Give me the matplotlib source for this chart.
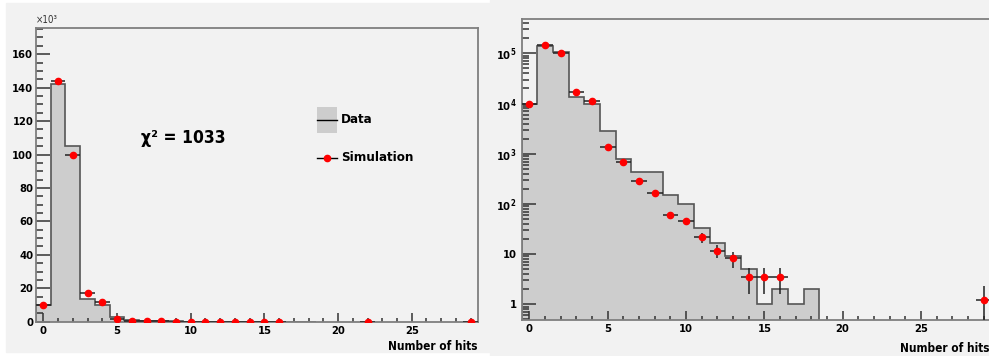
import numpy as np
import matplotlib
matplotlib.use("Agg")
import matplotlib.pyplot as plt
from matplotlib import font_manager
from matplotlib.patches import Rectangle
from matplotlib.lines import Line2D
from matplotlib.ticker import MultipleLocator, LogLocator, FixedLocator, FuncFormatter, NullFormatter

# -----------------------------------
# Data (bins of width 1, centred on integers)

data_counts = [10e3, 142e3, 105e3, 13.5e3, 10e3, 2.8e3, 800, 430, 430, 150,
               98, 33, 17, 9, 5, 1, 2, 1, 2]
data_edges = np.arange(len(data_counts) + 1) - 0.5

sim_hits = [0, 1, 2, 3, 4, 5, 6, 7, 8, 9, 10, 11, 12, 13, 14, 15, 16, 22, 29]
sim_counts = [9.7e3, 144e3, 100e3, 17e3, 11.5e3, 1.36e3, 670, 290, 168, 60,
              46, 21.6, 11.6, 8.2, 3.5, 3.5, 3.5, 0, 1.2]

log_ticks = [1, 10, 1e2, 1e3, 1e4, 1e5]
chi2_text = "χ² = 1033"
x_label = "Number of hits"

# -----------------------------------
# Style

W, H = 989, 356
BG = "#f2f2f2"
FILL = "#cdcdcd"
EDGE = "#555555"
SPINE = "#7f7f7f"

# pick a narrow bold face if one is installed (ROOT screenshots look condensed)
fonts = font_manager.fontManager.ttflist
names = {f.name for f in fonts}
stretch = "normal"
if "Liberation Sans Narrow" in names:
    base_font = "Liberation Sans Narrow"
elif any(f.name == "DejaVu Sans" and f.stretch == "condensed" for f in fonts):
    base_font = "DejaVu Sans"
    stretch = "condensed"
else:
    base_font = "Liberation Sans"
FONT = [base_font, "DejaVu Sans"]
scale = 1.0 if stretch == "condensed" or base_font.endswith("Narrow") else 0.88

plt.rcParams["font.family"] = FONT
plt.rcParams["font.weight"] = "bold"
plt.rcParams["font.stretch"] = stretch
plt.rcParams["mathtext.fontset"] = "custom"
mt = base_font + ":bold" + (":stretch=condensed" if stretch == "condensed" else "")
plt.rcParams["mathtext.rm"] = mt
plt.rcParams["mathtext.bf"] = mt


def px_axes(fig, x0, y0, x1, y1):
    """Axes from pixel box (left, top, right, bottom)"""
    return fig.add_axes([x0 / W, 1 - y1 / H, (x1 - x0) / W, (y1 - y0) / H])


def style_axes(ax):
    ax.set_facecolor(BG)
    for s in ax.spines.values():
        s.set_color(SPINE)
        s.set_linewidth(1.3)
    ax.tick_params(axis="both", which="both", direction="in", colors="#333333",
                   labelcolor="black", labelsize=8 * scale, width=1.1)
    ax.tick_params(axis="x", which="major", length=6.5, pad=3)
    ax.tick_params(axis="x", which="minor", length=3.2)
    ax.tick_params(axis="y", which="major", length=10, pad=2)
    ax.tick_params(axis="y", which="minor", length=5)
    ax.tick_params(top=False, right=False, which="both")
    ax.set_xlim(-0.5, 29.5)
    ax.xaxis.set_major_locator(MultipleLocator(5))
    ax.xaxis.set_minor_locator(MultipleLocator(1))


def draw_hists(ax, log=False):
    base = 1e-3 if log else 0
    ax.stairs(data_counts, data_edges, baseline=base, fill=True,
              color=FILL, zorder=1)
    ax.stairs(data_counts, data_edges, baseline=base, color=EDGE,
              linewidth=1.2, zorder=2)
    y = np.array(sim_counts, dtype=float)
    x = np.array(sim_hits, dtype=float)
    if log:
        keep = y > 0
        x, y = x[keep], y[keep]
    ax.errorbar(x, y, xerr=0.5, yerr=np.sqrt(y), fmt="o", color="red",
                markersize=4.5, ecolor="#222222", elinewidth=1.1,
                capsize=0, zorder=3)


fig = plt.figure(figsize=(W / 100, H / 100), dpi=100, facecolor="white")
# the two canvases
fig.add_artist(Rectangle((6 / W, 1 - 352 / H), (490 - 6) / W, (352 - 3) / H,
                         transform=fig.transFigure, color=BG, zorder=0))
fig.add_artist(Rectangle((490 / W, 0), (W - 490) / W, 1,
                         transform=fig.transFigure, color=BG, zorder=0))

# ---- left panel: linear scale
ax1 = px_axes(fig, 36, 28.3, 478, 321.7)
draw_hists(ax1)
ax1.set_ylim(0, 175.5e3)
ax1.yaxis.set_major_locator(MultipleLocator(20e3))
ax1.yaxis.set_minor_locator(MultipleLocator(5e3))
ax1.yaxis.set_major_formatter(FuncFormatter(lambda v, p: "%d" % round(v / 1e3)))
style_axes(ax1)
ax1.text(0.0, 1.012, "×10³", transform=ax1.transAxes, fontsize=7 * scale,
         fontweight="normal", color="#333333", ha="left", va="bottom")
ax1.text(1.0, -0.064, x_label, transform=ax1.transAxes, fontsize=8.5 * scale,
         ha="right", va="top")
ax1.text(9.5, 110e3, chi2_text, fontsize=12.5 * scale, ha="center", va="center")

# legend drawn the ROOT way
ax1.add_patch(Rectangle((0.635, 0.643), 0.045, 0.09, transform=ax1.transAxes,
                        facecolor=FILL, edgecolor="none", zorder=4))
ax1.add_line(Line2D([0.635, 0.68], [0.688, 0.688], transform=ax1.transAxes,
                    color="black", linewidth=1.0, zorder=5))
ax1.add_line(Line2D([0.635, 0.68], [0.559, 0.559], transform=ax1.transAxes,
                    color="black", linewidth=1.0, zorder=5))
ax1.add_line(Line2D([0.6575], [0.559], transform=ax1.transAxes, marker="o",
                    markersize=4.5, color="red", zorder=6))
ax1.text(0.69, 0.688, "Data", transform=ax1.transAxes, fontsize=9.5 * scale,
         va="center", ha="left")
ax1.text(0.69, 0.559, "Simulation", transform=ax1.transAxes, fontsize=9.5 * scale,
         va="center", ha="left")

# ---- right panel: log scale
ax2 = px_axes(fig, 521.5, 19, 991.5, 320)
ax2.set_yscale("log")
draw_hists(ax2, log=True)
ax2.yaxis.set_major_locator(FixedLocator(log_ticks))
ax2.yaxis.set_minor_locator(LogLocator(base=10, subs=np.arange(2, 10), numticks=40))


def log_fmt(v, p):
    e = int(round(np.log10(v)))
    if e == 0:
        return "1"
    if e == 1:
        return "10"
    return r"$\mathbf{10^{%d}}$" % e


ax2.yaxis.set_major_formatter(FuncFormatter(log_fmt))
ax2.yaxis.set_minor_formatter(NullFormatter())
style_axes(ax2)
ax2.set_ylim(0.486, 4.84e5)
ax2.tick_params(axis="y", which="major", pad=3.5)
ax2.text(29.5 - 0.15, -0.072, x_label, transform=ax2.get_xaxis_transform(),
         fontsize=8.5 * scale, ha="right", va="top", clip_on=False)

fig.savefig("out.png", dpi=100, facecolor=fig.get_facecolor())
